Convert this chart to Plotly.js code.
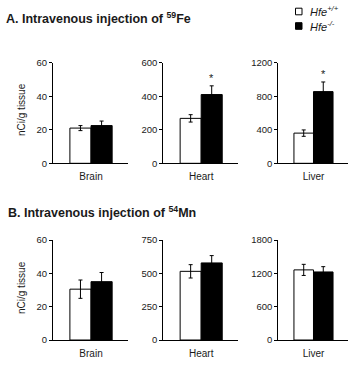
<!DOCTYPE html>
<html>
<head>
<meta charset="utf-8">
<script src="https://cdn.plot.ly/plotly-3.0.1.min.js"></script>
<style>
  html, body { margin: 0; padding: 0; background: #fff; }
  #chart { width: 351px; height: 367px; }
</style>
</head>
<body>
<div id="chart"></div>
<script>
// Tissue uptake (nCi/g tissue) after intravenous injection, mean ± SEM
const tissues = ['Brain', 'Heart', 'Liver'];
const genotypes = ['Hfe<sup>+/+</sup>', 'Hfe<sup>-/-</sup>'];

// Panel A: 59Fe
const feWT = [21, 268, 360];
const feWTerr = [1.5, 22, 38];
const feKO = [22.5, 410, 855];
const feKOerr = [2.7, 52, 115];
const feSignif = [false, true, true];
const feAxisMax = [60, 600, 1200];
const feTickStep = [20, 200, 400];

// Panel B: 54Mn
const mnWT = [30.5, 515, 1262];
const mnWTerr = [5.5, 50, 100];
const mnKO = [35, 578, 1225];
const mnKOerr = [5.5, 55, 95];
const mnSignif = [false, false, false];
const mnAxisMax = [60, 750, 1800];
const mnTickStep = [20, 250, 600];

const W = 351, H = 367;
const px = x => x / W;
const py = y => (H - y) / H;

const font = 'Liberation Sans, Arial, sans-serif';
const ink = '#1a1a1a';

const colDomains = [[px(53), px(128)], [px(163.3), px(238)], [px(278.3), px(347.7)]];
const rowDomains = [[py(163.3), py(62.7)], [py(340), py(240)]];

const rows = [
  { wt: feWT, wtErr: feWTerr, ko: feKO, koErr: feKOerr, sig: feSignif, max: feAxisMax, step: feTickStep },
  { wt: mnWT, wtErr: mnWTerr, ko: mnKO, koErr: mnKOerr, sig: mnSignif, max: mnAxisMax, step: mnTickStep }
];

const traces = [];
const layout = {
  width: W, height: H,
  margin: { l: 0, r: 0, t: 0, b: 0 },
  paper_bgcolor: '#fff', plot_bgcolor: '#fff',
  showlegend: false,
  bargap: 0, barmode: 'overlay',
  font: { family: font, size: 10, color: ink },
  annotations: [], shapes: []
};

rows.forEach((row, r) => {
  tissues.forEach((tissue, c) => {
    const n = r * 3 + c + 1;
    const xa = n === 1 ? 'x' : 'x' + n;
    const ya = n === 1 ? 'y' : 'y' + n;
    const errStyle = arr => ({ type: 'data', array: arr, visible: true, color: '#000', thickness: 1, width: 2 });
    traces.push({
      type: 'bar', x: [0], y: [row.wt[c]], width: [1],
      xaxis: xa, yaxis: ya, name: genotypes[0],
      marker: { color: '#fff', line: { color: '#000', width: 1 } },
      error_y: errStyle([row.wtErr[c]]),
      hoverinfo: 'y'
    });
    traces.push({
      type: 'bar', x: [1], y: [row.ko[c]], width: [1],
      xaxis: xa, yaxis: ya, name: genotypes[1],
      marker: { color: '#000', line: { color: '#000', width: 1 } },
      error_y: errStyle([row.koErr[c]]),
      hoverinfo: 'y'
    });
    layout['xaxis' + (n === 1 ? '' : n)] = {
      domain: colDomains[c], anchor: ya,
      range: [-1.3, 2.25], fixedrange: true,
      showline: true, linecolor: '#000', linewidth: 1,
      showgrid: false, zeroline: false,
      tickvals: [0.5], ticktext: [tissue], ticks: '',
      ticklabelstandoff: 4,
      tickfont: { family: font, size: 10, color: ink }
    };
    layout['yaxis' + (n === 1 ? '' : n)] = {
      domain: rowDomains[r], anchor: xa,
      range: [0, row.max[c]], fixedrange: true,
      tick0: 0, dtick: row.step[c],
      showline: true, linecolor: '#000', linewidth: 1,
      showgrid: false, zeroline: false,
      ticks: 'outside', ticklen: 3, tickcolor: '#000', tickwidth: 1,
      tickfont: { family: font, size: 9.5, color: ink }
    };
    if (row.sig[c]) {
      layout.annotations.push({
        xref: xa, yref: ya, x: 1, y: row.ko[c] + row.koErr[c],
        text: '*', showarrow: false, yanchor: 'bottom', yshift: 0,
        font: { family: font, size: 11, color: ink }
      });
    }
  });
});

// Panel headings
layout.annotations.push(
  { xref: 'paper', yref: 'paper', x: px(4), y: py(18), xanchor: 'left', yanchor: 'middle',
    text: 'A. Intravenous injection of <sup>59</sup>Fe', showarrow: false,
    font: { family: font, size: 12.5, color: ink, weight: 'bold' } },
  { xref: 'paper', yref: 'paper', x: px(6), y: py(212), xanchor: 'left', yanchor: 'middle',
    text: 'B. Intravenous injection of <sup>54</sup>Mn', showarrow: false,
    font: { family: font, size: 12.5, color: ink, weight: 'bold' } }
);

// Y-axis titles
[110, 288].forEach(yc => {
  layout.annotations.push({
    xref: 'paper', yref: 'paper', x: px(21), y: py(yc), xanchor: 'center', yanchor: 'middle',
    text: 'nCi/g tissue', textangle: -90, showarrow: false,
    font: { family: font, size: 10, color: ink }
  });
});

// Genotype key
const keyFill = ['#fff', '#000'];
const keyRows = [11.5, 26];
genotypes.forEach((g, i) => {
  const yc = keyRows[i];
  layout.shapes.push({
    type: 'rect', xref: 'paper', yref: 'paper',
    x0: px(295.5), x1: px(302), y0: py(yc + 3.3), y1: py(yc - 3.3),
    fillcolor: keyFill[i], line: { color: '#000', width: 1 }
  });
  layout.annotations.push({
    xref: 'paper', yref: 'paper', x: px(308), y: py(yc), xanchor: 'left', yanchor: 'middle',
    text: '<i>' + g + '</i>', showarrow: false,
    font: { family: font, size: 11, color: ink }
  });
});

Plotly.newPlot('chart', traces, layout, { staticPlot: true, displayModeBar: false });
</script>
</body>
</html>
